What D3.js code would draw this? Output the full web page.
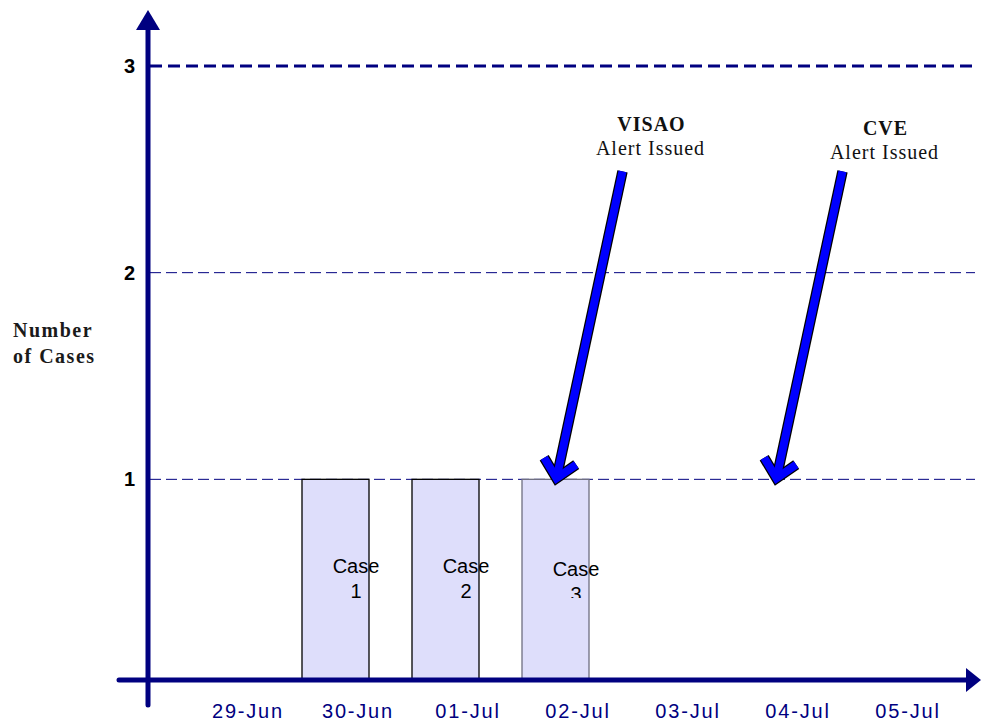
<!DOCTYPE html>
<html>
<head>
<meta charset="utf-8">
<script src="https://cdn.jsdelivr.net/npm/d3@7"></script>
<style>
  html, body { margin: 0; padding: 0; background: #fff; }
  svg { display: block; }
</style>
</head>
<body>
<svg id="chart" width="981" height="722"></svg>
<script>
// Epidemic curve: daily case counts with alert markers
const dates = ["29-Jun", "30-Jun", "01-Jul", "02-Jul", "03-Jul", "04-Jul", "05-Jul"];
const caseDates = ["30-Jun", "01-Jul", "02-Jul"];
const caseCounts = [1, 1, 1];
const caseLabels = ["1", "2", "3"];
const yTicks = [1, 2, 3];
const alertNames = ["VISAO", "CVE"];
const alertDates = ["02-Jul", "04-Jul"];
const alertLevel = [1, 1];

const svg = d3.select("#chart");
const navy = "#000080";
const sans = "Arial, 'Liberation Sans', sans-serif";
const serif = "'Liberation Serif', 'Times New Roman', serif";

const x = d3.scalePoint().domain(dates).range([248, 908]);
const y = d3.scaleLinear().domain([0, 3]).range([686, 66]);
const barW = 67;
const barShift = -56;           // bars sit left of the date label
const barX = d => x(d) + barShift;

// clip for the plot area (bars end at the x axis)
const defs = svg.append("defs");
defs.append("clipPath").attr("id", "plotClip")
  .append("rect").attr("x", 150).attr("y", 0).attr("width", 831).attr("height", 680);
defs.append("clipPath").attr("id", "lastClip")
  .append("rect").attr("x", 0).attr("y", 0).attr("width", 981).attr("height", 598);

// gridlines
svg.append("g").selectAll("line").data(yTicks).join("line")
  .attr("x1", 150).attr("x2", 975)
  .attr("y1", d => y(d)).attr("y2", d => y(d))
  .attr("stroke", navy)
  .attr("stroke-width", d => d === 3 ? 3 : 1)
  .attr("stroke-dasharray", d => d === 3 ? "12,6" : "11,5");

// tick labels on the y axis
svg.append("g").selectAll("text").data(yTicks).join("text")
  .attr("x", 135).attr("y", d => y(d) + 7)
  .attr("text-anchor", "end")
  .attr("font-family", sans)
  .attr("font-weight", "bold").attr("font-size", 20)
  .attr("fill", "#000")
  .text(d => d);

// bars
const bars = caseDates.map((d, i) => ({ date: d, value: caseCounts[i], label: caseLabels[i] }));
svg.append("g").attr("clip-path", "url(#plotClip)")
  .selectAll("rect").data(bars).join("rect")
  .attr("x", d => barX(d.date))
  .attr("y", d => y(d.value))
  .attr("width", barW)
  .attr("height", d => y(0) - y(d.value))
  .attr("fill", "#dedefb")
  .attr("stroke", (d, i) => i === 2 ? "#6e6e80" : "#000")
  .attr("stroke-width", 1.3);

// case labels inside the bars (the last number sits partly below the clip)
const lbl = svg.append("g").attr("font-family", sans)
  .attr("font-size", 20).attr("fill", "#000").attr("text-anchor", "middle");
bars.forEach((d, i) => {
  const cx = x(d.date) - 2;
  const dy = i === 2 ? 3 : 0;
  lbl.append("text").attr("x", cx).attr("y", 573 + dy).text("Case");
  lbl.append("text").attr("x", cx).attr("y", 598 + dy)
    .attr("clip-path", i === 2 ? "url(#lastClip)" : null)
    .text(d.label);
});

// axes with arrowheads
svg.append("line").attr("x1", 148).attr("x2", 148).attr("y1", 26).attr("y2", 705)
  .attr("stroke", navy).attr("stroke-width", 5).attr("stroke-linecap", "round");
svg.append("path").attr("d", "M148,10 L136,30 L160,30 Z").attr("fill", navy);
svg.append("line").attr("x1", 119).attr("x2", 970).attr("y1", 680).attr("y2", 680)
  .attr("stroke", navy).attr("stroke-width", 5).attr("stroke-linecap", "round");
svg.append("path").attr("d", "M981,680 L966,668 L966,692 Z").attr("fill", navy);

// date labels
svg.append("g").selectAll("text").data(dates).join("text")
  .attr("x", d => x(d))
  .attr("y", 718)
  .attr("text-anchor", "middle")
  .attr("font-family", sans)
  .attr("font-size", 20).attr("letter-spacing", 1.8)
  .attr("fill", navy)
  .text(d => d);

// y axis title
const yt = svg.append("text").attr("font-family", serif)
  .attr("font-weight", "bold").attr("font-size", 20).attr("letter-spacing", 1.5)
  .attr("fill", "#1a1a1a");
yt.append("tspan").attr("x", 13).attr("y", 337).text("Number");
yt.append("tspan").attr("x", 13).attr("y", 363).text("of Cases");

// alert arrows: thick shaft with an open chevron head, blue with a dark outline
const arrowG = svg.append("g").attr("fill", "none");
alertDates.forEach((d, i) => {
  const tx = barX(d) + barW / 2 + 1;
  const ty = y(alertLevel[i]) - 1;
  const dx = 66, dy = -307;
  const len = Math.hypot(dx, dy);
  const ux = dx / len, uy = dy / len;            // toward the tail
  const barbLen = 24, barbAng = 43 * Math.PI / 180;
  const rot = (vx, vy, a) => [vx * Math.cos(a) - vy * Math.sin(a), vx * Math.sin(a) + vy * Math.cos(a)];
  const b1 = rot(ux, uy, barbAng), b2 = rot(ux, uy, -barbAng);
  const shaft = `M${tx + dx},${ty + dy}L${tx + ux * 3},${ty + uy * 3}`;
  const head = `M${tx + b1[0] * barbLen},${ty + b1[1] * barbLen}L${tx},${ty}L${tx + b2[0] * barbLen},${ty + b2[1] * barbLen}`;
  [shaft, head].forEach(p => arrowG.append("path").attr("d", p)
    .attr("stroke", "#000").attr("stroke-width", 10.5).attr("stroke-linejoin", "miter"));
  arrowG.append("path").attr("d", shaft).attr("stroke", "#0000ff").attr("stroke-width", 8);
  arrowG.append("path").attr("d", head).attr("stroke", "#0000ff").attr("stroke-width", 8)
    .attr("stroke-linejoin", "miter");

  const labelX = tx + dx + (i === 0 ? 29 : 43);
  const lift = i === 1 ? 4 : 0;
  const t = svg.append("text").attr("text-anchor", "middle")
    .attr("font-family", serif).attr("font-size", 20).attr("letter-spacing", 1)
    .attr("fill", "#111");
  t.append("tspan").attr("x", labelX).attr("y", ty + dy - 40 + lift)
    .attr("font-weight", "bold").text(alertNames[i]);
  t.append("tspan").attr("x", labelX - 1).attr("y", ty + dy - 16 + lift)
    .text("Alert Issued");
});
</script>
</body>
</html>
